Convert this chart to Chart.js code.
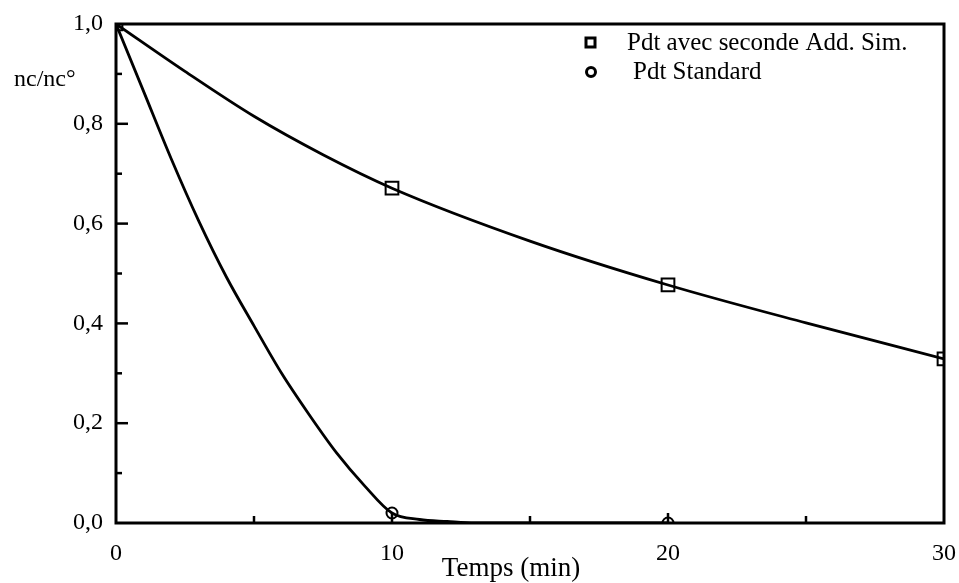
<!DOCTYPE html>
<html>
<head>
<meta charset="utf-8">
<script src="https://cdn.jsdelivr.net/npm/chart.js@4.4.1/dist/chart.umd.min.js"></script>
<style>
  html, body { margin: 0; padding: 0; background: #fff; }
  #wrap { width: 959px; height: 583px; }
</style>
</head>
<body>
<div id="wrap"><canvas id="kinetics"></canvas></div>
<script>
// measured markers
const simTimes = [0, 10, 20, 30];
const simValues = [1.0, 0.671, 0.477, 0.329];
const stdTimes = [0, 10, 20];
const stdValues = [1.0, 0.02, 0.0];

// smooth curves
const simCurveTimes = [0, 2.5, 5, 7.5, 10, 15, 20, 25, 30];
const simCurveValues = [1.0, 0.905, 0.815, 0.738, 0.671, 0.565, 0.477, 0.401, 0.329];
const stdCurveTimes = [0, 1, 2, 3, 4, 5, 6, 7, 8, 9, 10, 11, 12, 13, 20];
const stdCurveValues = [1.0, 0.865, 0.73, 0.605, 0.493, 0.395, 0.30, 0.217, 0.14, 0.075, 0.02, 0.007, 0.003, 0.0, 0.0];

const xTicks = [0, 10, 20, 30];
const yTicks = [0, 0.2, 0.4, 0.6, 0.8, 1.0];

const legendLabels = ['Pdt avec seconde Add. Sim.', 'Pdt Standard'];
const yAxisLabel = 'nc/nc\u00b0';
const xAxisLabel = 'Temps (min)';

const serif = '"Liberation Serif", "Times New Roman", serif';

function pairs(xs, ys) {
    return xs.map((x, i) => ({ x: x, y: ys[i] }));
}

// frame, inward ticks, axis texts and the legend
const decorations = {
    id: 'decorations',
    afterDraw(chart) {
        const ctx = chart.ctx;
        const area = chart.chartArea;
        const xs = chart.scales.x;
        const ys = chart.scales.y;
        ctx.save();
        ctx.strokeStyle = '#000';
        ctx.lineWidth = 3;
        ctx.strokeRect(area.left, area.top, area.right - area.left, area.bottom - area.top);

        ctx.lineWidth = 2.5;
        for (let i = 1; i < 10; i++) {
            const v = i / 10;
            const py = ys.getPixelForValue(v);
            const len = i % 2 === 0 ? 12 : 6;
            ctx.beginPath();
            ctx.moveTo(area.left, py);
            ctx.lineTo(area.left + len, py);
            ctx.stroke();
        }
        [5, 10, 15, 20, 25].forEach(function (t) {
            const px = xs.getPixelForValue(t);
            const len = t % 10 === 0 ? 10 : 7;
            ctx.beginPath();
            ctx.moveTo(px, area.bottom);
            ctx.lineTo(px, area.bottom - len);
            ctx.stroke();
        });

        ctx.fillStyle = '#000';
        ctx.font = '24px ' + serif;
        ctx.textBaseline = 'middle';
        ctx.textAlign = 'left';
        ctx.fillText(yAxisLabel, 14, 80);
        ctx.textAlign = 'center';
        ctx.font = '27px ' + serif;
        ctx.fillText(xAxisLabel, 511, 569);

        // legend
        ctx.textAlign = 'left';
        ctx.font = '25px ' + serif;
        ctx.lineWidth = 3;
        ctx.fillStyle = '#fff';
        ctx.fillRect(586, 38, 9, 9);
        ctx.strokeRect(586, 38, 9, 9);
        ctx.beginPath();
        ctx.arc(591, 72, 4.5, 0, Math.PI * 2);
        ctx.fill();
        ctx.stroke();
        ctx.fillStyle = '#000';
        ctx.fillText(legendLabels[0], 627, 43);
        ctx.fillText(legendLabels[1], 633, 72);
        ctx.restore();
    }
};

const ctx = document.getElementById('kinetics').getContext('2d');
const kineticsChart = new Chart(ctx, {
    type: 'scatter',
    data: {
        datasets: [
            {
                label: legendLabels[0] + ' (courbe)',
                data: pairs(simCurveTimes, simCurveValues),
                showLine: true,
                borderColor: '#000',
                borderWidth: 2.8,
                pointRadius: 0,
                cubicInterpolationMode: 'monotone'
            },
            {
                label: legendLabels[1] + ' (courbe)',
                data: pairs(stdCurveTimes, stdCurveValues),
                showLine: true,
                borderColor: '#000',
                borderWidth: 2.8,
                pointRadius: 0,
                cubicInterpolationMode: 'monotone'
            },
            {
                label: legendLabels[0],
                data: pairs(simTimes, simValues),
                pointStyle: 'rect',
                pointRadius: 9,
                pointBorderWidth: 2,
                pointBorderColor: '#000',
                pointBackgroundColor: '#fff'
            },
            {
                label: legendLabels[1],
                data: pairs(stdTimes, stdValues),
                pointStyle: 'circle',
                pointRadius: 5.5,
                pointBorderWidth: 2,
                pointBorderColor: '#000',
                pointBackgroundColor: '#fff'
            }
        ]
    },
    options: {
        responsive: true,
        maintainAspectRatio: false,
        animation: false,
        layout: { padding: { top: 24, right: 15, left: 0, bottom: 0 } },
        plugins: {
            legend: { display: false },
            tooltip: { enabled: false }
        },
        scales: {
            x: {
                type: 'linear',
                min: 0,
                max: 30,
                afterFit: function (s) { s.height = 60; s.paddingLeft = 0; s.paddingRight = 0; },
                afterBuildTicks: function (s) { s.ticks = xTicks.map(v => ({ value: v })); },
                grid: { display: false, drawTicks: false },
                border: { display: false },
                ticks: { color: '#000', padding: 16, font: { family: serif, size: 24 } }
            },
            y: {
                min: 0,
                max: 1,
                afterFit: function (s) { s.width = 116; s.paddingTop = 0; s.paddingBottom = 0; },
                afterBuildTicks: function (s) { s.ticks = yTicks.map(v => ({ value: v })); },
                grid: { display: false, drawTicks: false },
                border: { display: false },
                ticks: {
                    color: '#000',
                    padding: 13,
                    font: { family: serif, size: 24 },
                    callback: function (v) { return v.toFixed(1).replace('.', ','); }
                }
            }
        }
    },
    plugins: [decorations]
});
</script>
</body>
</html>
